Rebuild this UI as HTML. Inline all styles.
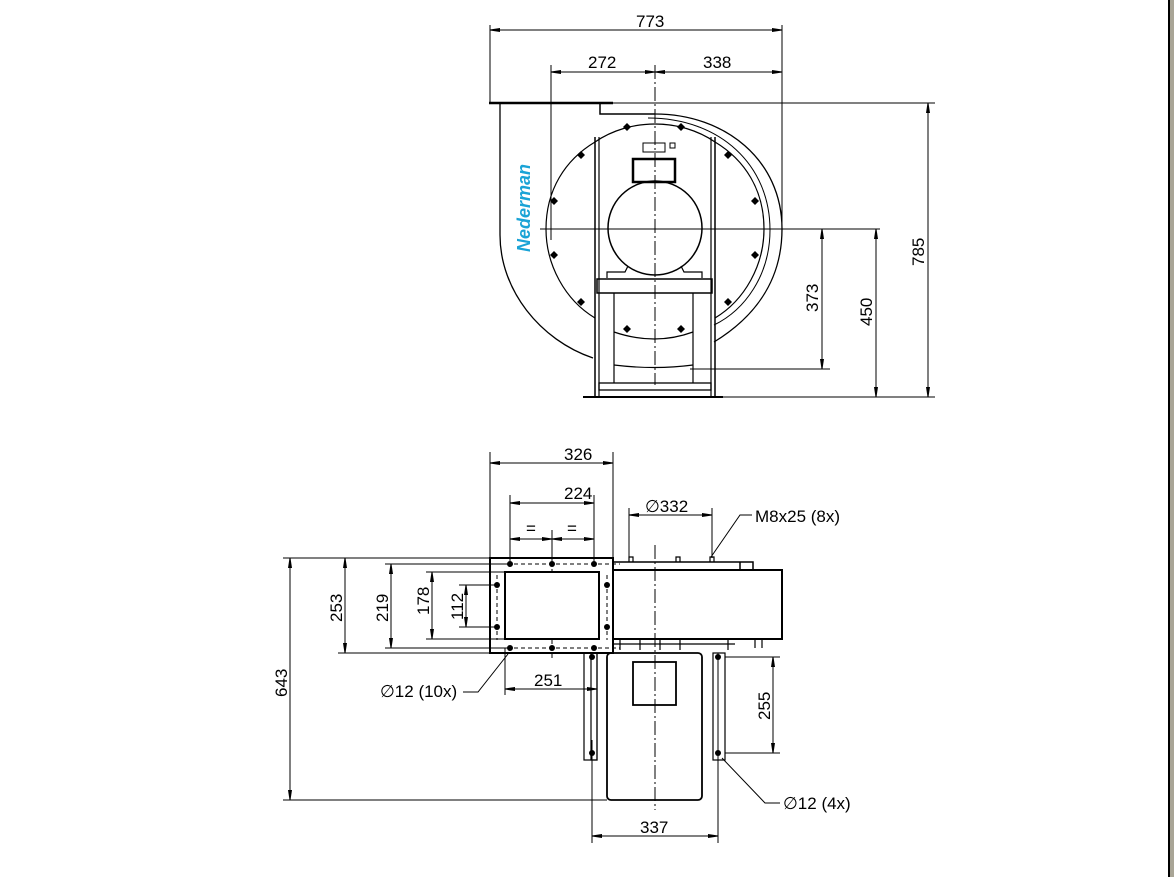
<!DOCTYPE html>
<html><head><meta charset="utf-8"><style>
html,body{margin:0;padding:0;background:#fff;}
svg{display:block;}
text{font-family:"Liberation Sans",sans-serif;font-size:17px;fill:#000;}
</style></head><body>
<svg width="1174" height="877" viewBox="0 0 1174 877" xmlns="http://www.w3.org/2000/svg">
<defs>
<marker id="a" viewBox="0 0 10 6" refX="10" refY="3" markerWidth="10" markerHeight="6" markerUnits="userSpaceOnUse" orient="auto-start-reverse"><path d="M0,1 L10,2.5 L10,3.5 L0,5 Z" fill="#000"/></marker>
</defs>
<rect x="1168" y="0" width="2" height="877" fill="#000"/>
<rect x="1170" y="0" width="4" height="877" fill="#a9a596"/>
<g fill="none" stroke="#000" stroke-width="1">
<!-- TOP VIEW -->
<!-- centerlines -->
<line x1="655" y1="65" x2="655" y2="385" stroke-dasharray="14,3,2,3"/>
<line x1="540" y1="229" x2="880" y2="229"/>
<!-- dimension ext lines -->
<line x1="490" y1="25" x2="490" y2="102"/>
<line x1="782" y1="25" x2="782" y2="229"/>
<line x1="551" y1="65" x2="551" y2="240"/>
<line x1="600" y1="103" x2="935" y2="103"/>
<line x1="715" y1="397" x2="935" y2="397"/>
<line x1="690" y1="369" x2="830" y2="369"/>
<line x1="490" y1="30" x2="782" y2="30" marker-start="url(#a)" marker-end="url(#a)"/>
<line x1="551" y1="72" x2="655" y2="72" marker-start="url(#a)" marker-end="url(#a)"/>
<line x1="655" y1="72" x2="782" y2="72" marker-start="url(#a)" marker-end="url(#a)"/>
<line x1="822" y1="229" x2="822" y2="369" marker-start="url(#a)" marker-end="url(#a)"/>
<line x1="876" y1="229" x2="876" y2="397" marker-start="url(#a)" marker-end="url(#a)"/>
<line x1="928" y1="103" x2="928" y2="397" marker-start="url(#a)" marker-end="url(#a)"/>
<!-- flange -->
<line x1="489" y1="103" x2="613" y2="103" stroke-width="2.5"/>
<path d="M600 103 V114 H655" stroke-width="1.5"/>
<!-- scroll -->
<path d="M655 114 C725 114 782 160 782 229 C782 285 750 320 714 342" stroke-width="1.3"/>
<path d="M500 103 V235 C500 290 540 340 593 358" stroke-width="1.3"/>
<path d="M648 118 C720 118 770 165 770 230 C770 275 745 310 714 325" stroke-width="1"/>
<!-- inner circle -->
<path d="M595 142 C630 118 680 118 715 142 M595 318 C565 300 546 265 546 229 C546 190 565 160 595 142 M715 142 C745 160 764 190 764 229 C764 265 745 300 715 318" stroke-width="1.2"/>
<!-- frame -->
<line x1="595" y1="137" x2="595" y2="397" stroke-width="1.5"/>
<line x1="599" y1="137" x2="599" y2="397" stroke-width="1.2"/>
<line x1="711" y1="137" x2="711" y2="397" stroke-width="1.2"/>
<line x1="715" y1="137" x2="715" y2="397" stroke-width="1.5"/>
<line x1="583" y1="397" x2="723" y2="397" stroke-width="2"/>
<!-- motor -->
<circle cx="655" cy="228" r="47" stroke-width="1.5"/>
<rect x="633" y="159" width="42" height="23" stroke-width="2.5"/>
<rect x="643" y="143" width="22" height="9"/>
<rect x="670" y="143" width="5" height="5"/>
<path d="M607 278 V272 H625 L628 266 M702 278 V272 H684 L681 266" stroke-width="1.2"/>
<rect x="597" y="279" width="115" height="14" stroke-width="1.5"/>
<line x1="614" y1="293" x2="614" y2="383" stroke-width="1.2"/>
<line x1="693" y1="293" x2="693" y2="383" stroke-width="1.2"/>
<rect x="599" y="383" width="112" height="7" stroke-width="1.3"/>
<path d="M614 332 Q655 346 693 332" stroke-width="1.2"/>
<path d="M614 365 Q655 370 693 365" stroke-width="1.2"/>
<!-- BOTTOM VIEW -->
<line x1="655" y1="545" x2="655" y2="810" stroke-dasharray="14,3,2,3"/>
<line x1="490" y1="452" x2="490" y2="557"/>
<line x1="613" y1="452" x2="613" y2="557"/>
<line x1="510" y1="495" x2="510" y2="565"/>
<line x1="594" y1="495" x2="594" y2="565"/>
<line x1="552" y1="530" x2="552" y2="565"/>
<line x1="629" y1="508" x2="629" y2="560"/>
<line x1="712" y1="508" x2="712" y2="558"/>
<line x1="490" y1="463" x2="613" y2="463" marker-start="url(#a)" marker-end="url(#a)"/>
<line x1="510" y1="503" x2="594" y2="503" marker-start="url(#a)" marker-end="url(#a)"/>
<line x1="510" y1="539" x2="552" y2="539" marker-start="url(#a)" marker-end="url(#a)"/>
<line x1="552" y1="539" x2="594" y2="539" marker-start="url(#a)" marker-end="url(#a)"/>
<line x1="629" y1="515" x2="712" y2="515" marker-start="url(#a)" marker-end="url(#a)"/>
<polyline points="711,557 740,515 752,515"/>
<!-- left dims -->
<line x1="283" y1="558" x2="490" y2="558"/>
<line x1="385" y1="564" x2="510" y2="564"/>
<line x1="426" y1="572" x2="505" y2="572"/>
<line x1="459" y1="585" x2="497" y2="585"/>
<line x1="459" y1="627" x2="497" y2="627"/>
<line x1="426" y1="639" x2="505" y2="639"/>
<line x1="385" y1="648" x2="510" y2="648"/>
<line x1="338" y1="653" x2="490" y2="653"/>
<line x1="283" y1="800" x2="607" y2="800"/>
<line x1="290" y1="558" x2="290" y2="800" marker-start="url(#a)" marker-end="url(#a)"/>
<line x1="345" y1="558" x2="345" y2="653" marker-start="url(#a)" marker-end="url(#a)"/>
<line x1="391" y1="564" x2="391" y2="648" marker-start="url(#a)" marker-end="url(#a)"/>
<line x1="432" y1="572" x2="432" y2="639" marker-start="url(#a)" marker-end="url(#a)"/>
<line x1="466" y1="585" x2="466" y2="627" marker-start="url(#a)" marker-end="url(#a)"/>
<line x1="505" y1="648" x2="505" y2="695"/>
<line x1="505" y1="689" x2="597" y2="689" marker-start="url(#a)" marker-end="url(#a)"/>
<polyline points="508,654 478,692 463,692"/>
<!-- flange -->
<rect x="490" y="558" width="123" height="95" stroke-width="2"/>
<rect x="505" y="572" width="94" height="67" stroke-width="2"/>
<g stroke-dasharray="4,3"><line x1="497" y1="575" x2="497" y2="640"/><line x1="607" y1="575" x2="607" y2="640"/><line x1="500" y1="564" x2="620" y2="564"/><line x1="500" y1="648" x2="620" y2="648"/><line x1="552" y1="555" x2="552" y2="575"/><line x1="552" y1="640" x2="552" y2="658"/></g>
<!-- housing -->
<rect x="613" y="570" width="169" height="69" stroke-width="2"/>
<path d="M613 562 H753 V570 M740 562 V570" stroke-width="1.5"/>
<path d="M629 562 V557 H633 V562 M676 562 V557 H680 V562 M710 562 V557 H714 V562" stroke-width="1.2"/>
<line x1="613" y1="644" x2="735" y2="644" stroke-width="1.2"/>
<path d="M620 639 V650 M640 639 V650 M660 639 V650 M680 639 V650 M728 639 V650 M755 639 V648 M762 639 V648" stroke-width="1.2"/>
<!-- motor bottom -->
<rect x="607" y="653" width="95" height="147" rx="4" stroke-width="1.8"/>
<rect x="633" y="662" width="43" height="43" stroke-width="1.8"/>
<rect x="584" y="653" width="13" height="107" stroke-width="1.2"/>
<rect x="591" y="653" width="6" height="107" stroke-width="1.2"/>
<rect x="713" y="653" width="12" height="107" stroke-width="1.2"/>
<line x1="718" y1="653" x2="718" y2="843"/>
<line x1="592" y1="740" x2="592" y2="843"/>
<line x1="725" y1="657" x2="780" y2="657"/>
<line x1="725" y1="753" x2="780" y2="753"/>
<line x1="773" y1="657" x2="773" y2="753" marker-start="url(#a)" marker-end="url(#a)"/>
<line x1="592" y1="836" x2="718" y2="836" marker-start="url(#a)" marker-end="url(#a)"/>
<polyline points="722,758 765,803 780,803"/>
</g>
<!-- holes -->
<g fill="#000">
<g transform="translate(0,0)">
<path d="M627 123 l4 4 -4 4 -4 -4Z M681 123 l4 4 -4 4 -4 -4Z M581 151 l4 4 -4 4 -4 -4Z M728 151 l4 4 -4 4 -4 -4Z M554 197 l4 4 -4 4 -4 -4Z M755 197 l4 4 -4 4 -4 -4Z M554 251 l4 4 -4 4 -4 -4Z M755 251 l4 4 -4 4 -4 -4Z M581 298 l4 4 -4 4 -4 -4Z M728 298 l4 4 -4 4 -4 -4Z M627 325 l4 4 -4 4 -4 -4Z M681 325 l4 4 -4 4 -4 -4Z"/>
</g>
<circle cx="510" cy="564" r="3"/><circle cx="552" cy="564" r="3"/><circle cx="594" cy="564" r="3"/>
<circle cx="497" cy="585" r="3"/><circle cx="607" cy="585" r="3"/><circle cx="497" cy="627" r="3"/><circle cx="607" cy="627" r="3"/>
<circle cx="510" cy="648" r="3"/><circle cx="552" cy="648" r="3"/><circle cx="594" cy="648" r="3"/>
<circle cx="592" cy="657" r="3"/><circle cx="718" cy="657" r="3"/><circle cx="592" cy="753" r="3"/><circle cx="718" cy="753" r="3"/>
</g>
<!-- labels -->
<text x="636" y="27">773</text>
<text x="588" y="68">272</text>
<text x="703" y="68">338</text>
<text transform="translate(818,312) rotate(-90)">373</text>
<text transform="translate(872,326) rotate(-90)">450</text>
<text transform="translate(924,266) rotate(-90)">785</text>
<text transform="translate(530,252) rotate(-90)" style="font-weight:bold;font-style:italic;fill:#1aa3d6;font-size:18px">Nederman</text>
<text x="564" y="460">326</text>
<text x="564" y="499">224</text>
<text x="526" y="534">=</text>
<text x="567" y="534">=</text>
<text x="645" y="512">∅332</text>
<text x="755" y="522">M8x25 (8x)</text>
<text transform="translate(342,622) rotate(-90)">253</text>
<text transform="translate(388,622) rotate(-90)">219</text>
<text transform="translate(429,615) rotate(-90)">178</text>
<text transform="translate(463,620) rotate(-90)">112</text>
<text transform="translate(287,697) rotate(-90)">643</text>
<text x="534" y="686">251</text>
<text x="380" y="697">∅12 (10x)</text>
<text transform="translate(770,720) rotate(-90)">255</text>
<text x="640" y="833">337</text>
<text x="783" y="809">∅12 (4x)</text>
</svg>
</body></html>
